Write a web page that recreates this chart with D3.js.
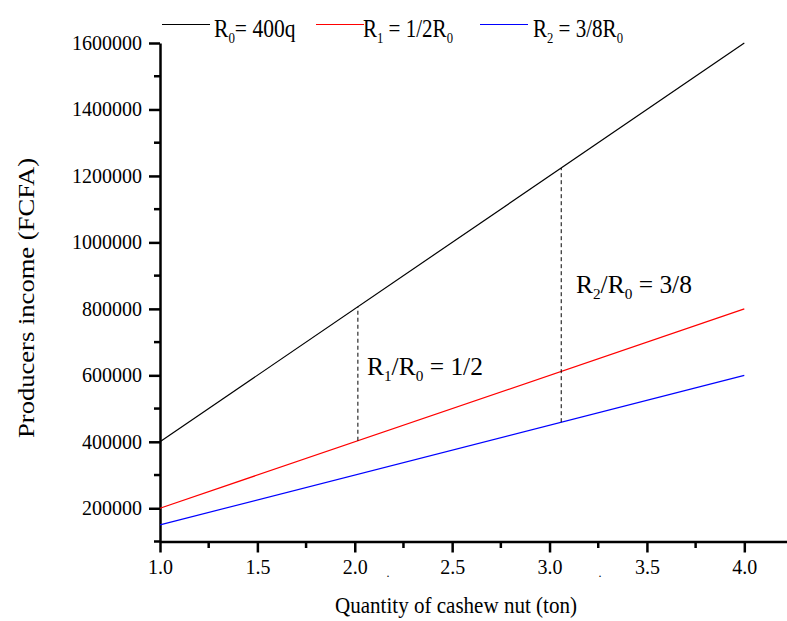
<!DOCTYPE html>
<html>
<head>
<meta charset="utf-8">
<script src="https://cdn.jsdelivr.net/npm/d3@7"></script>
<style>
  body { margin: 0; background: #fff; }
  svg text { font-family: "Liberation Serif", "Times New Roman", serif; fill: #000; }
</style>
</head>
<body>
<div id="chart"></div>
<script>
// quantities (ton) and income series (FCFA)
var quantity = [1, 4];
var incomeR0 = [400000, 1600000];
var incomeR1 = [200000, 800000];
var incomeR2 = [150000, 600000];
var seriesColors = ["#000000", "#ff0000", "#0000ff"];

// dashed guide lines: [q, from, to]
var guides = [
  [2.016, 403200, 806400],
  [3.06, 459000, 1224000]
];

var xTicks = [1.0, 1.5, 2.0, 2.5, 3.0, 3.5, 4.0];
var yTicks = [200000, 400000, 600000, 800000, 1000000, 1200000, 1400000, 1600000];

var width = 787, height = 621;

var svg = d3.select("#chart")
  .append("svg")
  .attr("width", width)
  .attr("height", height);

var xScale = d3.scaleLinear().domain([1, 4.25]).range([160, 793]);
var yScale = d3.scaleLinear().domain([100000, 1600000]).range([541.5, 43]);

// minor ticks
var xMinor = [1.25, 1.75, 2.25, 2.75, 3.25, 3.75];
var yMinor = d3.range(100000, 1600000, 200000);

svg.append("g").selectAll("line").data(xMinor).enter().append("line")
  .attr("x1", function (d) { return xScale(d); })
  .attr("x2", function (d) { return xScale(d); })
  .attr("y1", 541.5).attr("y2", 548)
  .attr("stroke", "#000").attr("stroke-width", 2.5);

svg.append("g").selectAll("line").data(yMinor).enter().append("line")
  .attr("x1", 154).attr("x2", 160)
  .attr("y1", function (d) { return yScale(d); })
  .attr("y2", function (d) { return yScale(d); })
  .attr("stroke", "#000").attr("stroke-width", 2.5);

// x axis
var xAxis = d3.axisBottom(xScale)
  .tickValues(xTicks)
  .tickSize(11)
  .tickSizeOuter(0)
  .tickPadding(7)
  .tickFormat(d3.format(".1f"));

var gx = svg.append("g")
  .attr("transform", "translate(0,541.5)")
  .call(xAxis);
gx.select(".domain").attr("stroke-width", 2.5);
gx.selectAll(".tick line").attr("stroke-width", 2.5);
gx.selectAll("text")
  .style("font-family", "'Liberation Serif', serif")
  .style("font-size", "20px");

// y axis
var yAxis = d3.axisLeft(yScale)
  .tickValues(yTicks)
  .tickSize(11)
  .tickSizeOuter(0)
  .tickPadding(7)
  .tickFormat(d3.format("d"));

var gy = svg.append("g")
  .attr("transform", "translate(160,0)")
  .call(yAxis);
gy.select(".domain").attr("stroke-width", 2.5);
gy.selectAll(".tick line").attr("stroke-width", 2.5);
gy.selectAll("text")
  .style("font-family", "'Liberation Serif', serif")
  .style("font-size", "20px");

// series lines
var line = d3.line()
  .x(function (d, i) { return xScale(quantity[i]); })
  .y(function (d) { return yScale(d); });

[incomeR0, incomeR1, incomeR2].forEach(function (values, i) {
  svg.append("path")
    .datum(values)
    .attr("fill", "none")
    .attr("stroke", seriesColors[i])
    .attr("stroke-width", 1.2)
    .attr("d", line);
});

// dashed guides
svg.append("g").selectAll("line").data(guides).enter().append("line")
  .attr("x1", function (d) { return xScale(d[0]); })
  .attr("x2", function (d) { return xScale(d[0]); })
  .attr("y1", function (d) { return yScale(d[1]); })
  .attr("y2", function (d) { return yScale(d[2]); })
  .attr("stroke", "#000")
  .attr("stroke-width", 1)
  .attr("stroke-dasharray", "4,3");

// text with subscripts: parts = [text, isSub]; fitW squeezes to a width
function subText(x, y, parts, size, fitW) {
  var g = svg.append("g").attr("transform", "translate(" + x + "," + y + ")");
  var t = g.append("text").style("font-size", size + "px");
  var wasSub = false;
  parts.forEach(function (p) {
    var s = t.append("tspan").text(p[0]);
    if (p[1]) {
      s.attr("dy", size * 0.25).style("font-size", (size * 0.6) + "px");
    } else if (wasSub) {
      s.attr("dy", -size * 0.25);
    }
    wasSub = p[1];
  });
  if (fitW) {
    var w = t.node().getBBox().width;
    g.attr("transform", "translate(" + x + "," + y + ") scale(" + (fitW / w) + ",1)");
  }
  return g;
}

// legend
var legend = [
  { x: 162, tx: 214, w: 82, parts: [["R", false], ["0", true], ["= 400q", false]] },
  { x: 316, tx: 363, w: 90, parts: [["R", false], ["1", true], [" = 1/2R", false], ["0", true]] },
  { x: 480, tx: 533, w: 90, parts: [["R", false], ["2", true], [" = 3/8R", false], ["0", true]] }
];
legend.forEach(function (d, i) {
  svg.append("line")
    .attr("x1", d.x).attr("x2", d.x + 48)
    .attr("y1", 24.5).attr("y2", 24.5)
    .attr("stroke", seriesColors[i]).attr("stroke-width", 1.2);
  subText(d.tx, 37, d.parts, 25, d.w);
});

// annotations
subText(367, 375, [["R", false], ["1", true], ["/R", false], ["0", true], [" = 1/2", false]], 25, 116);
subText(576, 293, [["R", false], ["2", true], ["/R", false], ["0", true], [" = 3/8", false]], 25, 116);

// stray dots below the x axis
[388, 600].forEach(function (px) {
  svg.append("text")
    .attr("x", px).attr("y", 577)
    .attr("text-anchor", "middle")
    .style("font-size", "12px")
    .text(".");
});

// axis titles
svg.append("text")
  .attr("x", 335).attr("y", 613)
  .attr("textLength", 242)
  .attr("lengthAdjust", "spacingAndGlyphs")
  .style("font-size", "23px")
  .text("Quantity of cashew nut (ton)");

svg.append("text")
  .attr("transform", "translate(34,438) rotate(-90)")
  .attr("textLength", 280)
  .attr("lengthAdjust", "spacingAndGlyphs")
  .style("font-size", "24px")
  .text("Producers income (FCFA)");
</script>
</body>
</html>
